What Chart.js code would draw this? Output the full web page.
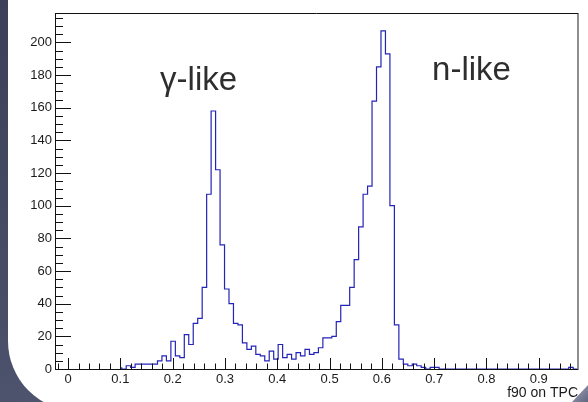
<!DOCTYPE html>
<html>
<head>
<meta charset="utf-8">
<title>f90 on TPC</title>
<script src="https://cdn.jsdelivr.net/npm/chart.js@4.4.1/dist/chart.umd.min.js"></script>
<style>
    html, body { margin: 0; padding: 0; }
    body {
        width: 588px; height: 402px; overflow: hidden; position: relative;
        background: linear-gradient(160deg, #3c4058 0%, #4a4f69 55%, #5a5f7c 100%);
    }
    .panel {
        position: absolute; left: 8px; top: 0; width: 580px; height: 411px;
        background: #fff; border-bottom-left-radius: 70px;
    }
    .curl {
        position: absolute; left: 572px; top: 385px; width: 16px; height: 17px;
        background: linear-gradient(135deg, #a3a5bf, #62667f);
        clip-path: polygon(100% 0, 100% 100%, 0 100%);
    }
    canvas { position: absolute; left: 0; top: 0; }
</style>
</head>
<body>
<div class="panel"></div>
<div class="curl"></div>
<canvas id="f90Chart" width="588" height="402"></canvas>
<script>
// ═══════════════════════════════════════════════════════
// f90 on TPC — ROOT style histogram
// ═══════════════════════════════════════════════════════

// ─── DATA ───
const BIN_WIDTH = 1 / 117;
const FIRST_BIN = 12;          // index of the first bin listed in counts

const counts = [
    1, 0, 2, 1, 3, 3, 3, 3, 3, 5, 8, 5, 17, 8, 7, 21, 15, 28,
    31, 50, 107, 158, 122, 76, 49, 40, 28, 27, 16, 12, 14, 9, 8, 5, 11, 6, 15, 7, 9, 6,
    10, 8, 12, 9, 10, 13, 19, 19, 20, 29, 39, 39, 50, 67, 87, 107, 112, 164, 185, 207,
    193, 100, 27, 6, 3, 2, 3, 2, 1, 0, 1, 1,
    0, 0, 0, 0, 0, 0, 0, 0, 0, 0, 0, 0, 0, 0, 0, 0, 0, 0, 0, 0, 0, 0, 0, 0, 0, 0, 0, 0, 0,
    1
];

const xTicks = [0, 0.1, 0.2, 0.3, 0.4, 0.5, 0.6, 0.7, 0.8, 0.9];
const yTicks = [0, 20, 40, 60, 80, 100, 120, 140, 160, 180, 200];

const peakLabels = ['γ-like', 'n-like'];
const peakLabelX = [0.176, 0.696];
const peakLabelY = [171, 177];

(function () {
    'use strict';

    const FONT = '"Liberation Sans", Arial, Helvetica, sans-serif';
    Chart.defaults.font.family = FONT;

    // ─── HISTOGRAM OUTLINE ───
    const points = [{ x: FIRST_BIN * BIN_WIDTH, y: 0 }];
    counts.forEach((c, i) => points.push({ x: (FIRST_BIN + i) * BIN_WIDTH, y: c }));
    points.push({ x: (FIRST_BIN + counts.length) * BIN_WIDTH, y: 0 });

    // ─── FRAME, INSIDE TICKS, LABELS ───
    const rootFrame = {
        id: 'rootFrame',
        afterDatasetsDraw(chart) {
            const { ctx, chartArea: a, scales: { x, y } } = chart;
            ctx.save();

            const line = (x1, y1, x2, y2) => {
                ctx.beginPath();
                ctx.moveTo(x1, y1);
                ctx.lineTo(x2, y2);
                ctx.stroke();
            };

            // right border (grey)
            ctx.strokeStyle = '#8e8e8e';
            ctx.lineWidth = 2;
            line(a.right, a.top, a.right, a.bottom + 1);

            ctx.strokeStyle = '#111';
            ctx.lineWidth = 1;
            line(a.left, a.top + 0.5, a.right, a.top + 0.5);
            line(a.left + 0.5, a.top, a.left + 0.5, a.bottom + 1);
            line(a.left, a.bottom + 0.5, a.right, a.bottom + 0.5);

            // y ticks: major every 20, minor every 5
            for (let v = 0; v <= 215; v += 5) {
                const py = Math.round(y.getPixelForValue(v)) + 0.5;
                const len = v % 20 === 0 ? 16 : 8;
                line(a.left, py, a.left + len, py);
            }

            // x ticks: major every 0.1, minor every 0.02
            for (let i = -1; i <= 48; i++) {
                const px = Math.round(x.getPixelForValue(i * 0.02)) + 0.5;
                const len = i % 5 === 0 ? 11 : 5.5;
                line(px, a.bottom, px, a.bottom - len);
            }

            // peak labels
            ctx.fillStyle = '#2e2e2e';
            ctx.font = '33px ' + FONT;
            ctx.textAlign = 'left';
            ctx.textBaseline = 'alphabetic';
            peakLabels.forEach((t, i) => {
                ctx.fillText(t, x.getPixelForValue(peakLabelX[i]), y.getPixelForValue(peakLabelY[i]));
            });

            ctx.restore();
        }
    };

    // ─── CHART ───
    new Chart(document.getElementById('f90Chart'), {
        type: 'line',
        data: {
            datasets: [{
                data: points,
                stepped: 'after',
                borderColor: '#2424b8',
                borderWidth: 1.2,
                pointRadius: 0,
                fill: false,
                tension: 0
            }]
        },
        options: {
            responsive: false,
            devicePixelRatio: 1,
            animation: false,
            layout: { padding: { left: 0, right: 10, top: 13, bottom: 0 } },
            plugins: { legend: { display: false }, tooltip: { enabled: false } },
            scales: {
                x: {
                    type: 'linear',
                    min: -0.025,
                    max: 0.975,
                    afterBuildTicks: sc => { sc.ticks = xTicks.map(v => ({ value: v })); },
                    afterFit: sc => { sc.height = 33; },
                    grid: { display: false, drawTicks: false },
                    border: { display: false },
                    ticks: {
                        color: '#1a1a1a', font: { size: 13 }, padding: 3,
                        maxRotation: 0, autoSkip: false,
                        callback: v => String(v)
                    },
                    title: {
                        display: true, text: 'f90 on TPC', align: 'end',
                        color: '#1a1a1a', font: { size: 14 }, padding: 0
                    }
                },
                y: {
                    min: 0,
                    max: 218,
                    afterBuildTicks: sc => { sc.ticks = yTicks.map(v => ({ value: v })); },
                    afterFit: sc => { sc.width = 55; },
                    grid: { display: false, drawTicks: false },
                    border: { display: false },
                    ticks: { color: '#1a1a1a', font: { size: 13 }, padding: 3, autoSkip: false }
                }
            }
        },
        plugins: [rootFrame]
    });

})();
</script>
</body>
</html>
